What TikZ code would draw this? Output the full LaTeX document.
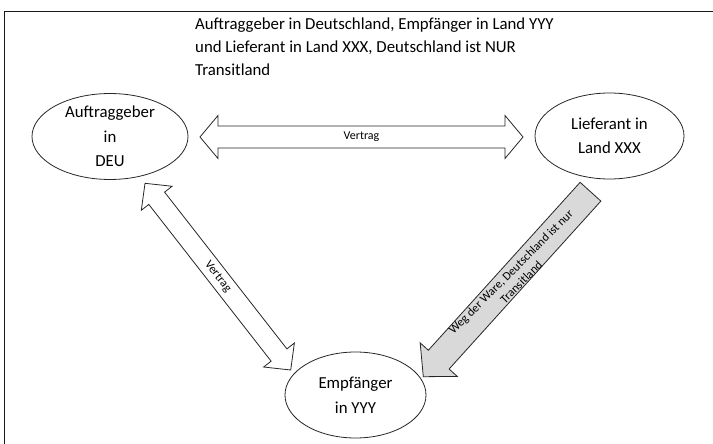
\documentclass[tikz,border=0pt]{standalone}
\usepackage{fontspec}
\setmainfont{Carlito}
\usetikzlibrary{calc,shapes.geometric}
\tikzset{
  oval/.style={ellipse, draw=black!85, line width=0.8pt, inner sep=0pt, align=center,
    font=\fontsize{16.8}{24.5}\selectfont},
  fatarrow/.style={draw=black!85, line width=0.8pt, line join=miter, fill=white},
  grayarrow/.style={fatarrow, fill=black!15},
  small/.style={font=\fontsize{12}{14.5}\selectfont, inner sep=0pt}
}
\newcommand\DblArrow[6]{%
  \coordinate (da1) at ($(#1)!#5!(#2)$);
  \coordinate (da2) at ($(#2)!#5!(#1)$);
  \draw[#6] (#1) -- ($(da1)!#4!90:(#2)$) -- ($(da1)!#3!90:(#2)$)
    -- ($(da2)!#3!-90:(#1)$) -- ($(da2)!#4!-90:(#1)$) -- (#2)
    -- ($(da2)!#4!90:(#1)$) -- ($(da2)!#3!90:(#1)$)
    -- ($(da1)!#3!-90:(#2)$) -- ($(da1)!#4!-90:(#2)$) -- cycle;}
\newcommand\OneArrow[6]{% tail, tip, shaft half, head half, head len, style
  \coordinate (sa1) at ($(#2)!#5!(#1)$);
  \draw[#6] (#2) -- ($(sa1)!#4!90:(#1)$) -- ($(sa1)!#3!90:(#1)$)
    -- ($(#1)!#3!-90:(#2)$) -- ($(#1)!#3!90:(#2)$)
    -- ($(sa1)!#3!-90:(#1)$) -- ($(sa1)!#4!-90:(#1)$) -- cycle;}
\begin{document}
\begin{tikzpicture}[x=1pt, y=-1pt]
\useasboundingbox (0,0) rectangle (713,444);
% frame
\draw[line width=1.6pt, black!90] (4.5,450) -- (4.5,11.5) -- (720,11.5);
% title
\node[anchor=north west, inner sep=0pt, align=left,
  font=\fontsize{16.8}{23}\selectfont] (title) at (195,17.5)
  {Auftraggeber in Deutschland, Empfänger in Land YYY\\
   und Lieferant in Land XXX, Deutschland ist NUR\\
   Transitland};
% ovals
\node[oval, minimum width=156pt, minimum height=85pt] (auf) at (110,136.5)
  {Auftraggeber\\in\\DEU};
\node[oval, minimum width=149pt, minimum height=86pt] (lief) at (609.5,136)
  {Lieferant in\\Land XXX};
\node[oval, minimum width=141pt, minimum height=86pt] (emp) at (355.5,395)
  {Empfänger\\in YYY};
% arrow ends
\coordinate (h1) at (200,137);
\coordinate (h2) at (523,137);
\coordinate (v1) at (145,183.3);
\coordinate (v2) at (290.7,370);
\coordinate (wt) at (590.5,191.7);
\coordinate (wp) at (423.3,376.7);
% arrows
\DblArrow{h1}{h2}{11pt}{21.5pt}{18pt}{fatarrow}
\DblArrow{v1}{v2}{10pt}{19.5pt}{19pt}{fatarrow}
\OneArrow{wt}{wp}{14pt}{25pt}{23pt}{grayarrow}
% labels
\path (h1) -- (h2) node[midway, small] (lh) {Vertrag};
\path (v1) -- (v2) node[midway, sloped, small] (lv) {Vertrag};
\node[small, align=center, rotate=45] (lw) at (516,277)
  {Weg der Ware, Deutschland ist nur\\Transitland};
\end{tikzpicture}
\end{document}
